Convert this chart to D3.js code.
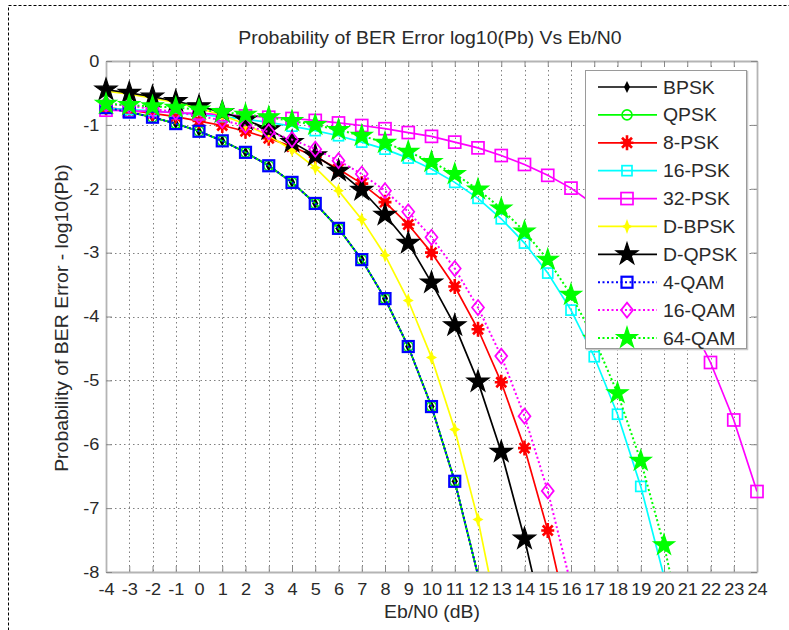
<!DOCTYPE html>
<html>
<head>
<meta charset="utf-8">
<script src="https://cdn.jsdelivr.net/npm/d3@7"></script>
<style>
  body { margin: 0; background: #fff; }
  svg { display: block; }
  text { font-family: "Liberation Sans", Arial, sans-serif; fill: #2a2a2a; }
</style>
</head>
<body>
<svg id="chart" width="789" height="630"></svg>
<script>
// Eb/N0 in dB, one point per integer
var ebno = [-4, -3, -2, -1, 0, 1, 2, 3, 4, 5, 6, 7, 8, 9, 10, 11, 12, 13, 14, 15, 16, 17, 18, 19, 20, 21, 22, 23, 24];
var xTicks = ebno;
var yTicks = [0, -1, -2, -3, -4, -5, -6, -7, -8];

// log10(Pb)
var bpsk = [-0.73, -0.80, -0.88, -0.98, -1.10, -1.25, -1.43, -1.64, -1.90, -2.23, -2.62, -3.11, -3.72, -4.47, -5.41, -6.58, -8.05];
var qpsk = [-0.73, -0.80, -0.88, -0.98, -1.10, -1.25, -1.43, -1.64, -1.90, -2.23, -2.62, -3.11, -3.72, -4.47, -5.41, -6.58, -8.05];
var psk8 = [-0.73, -0.77, -0.82, -0.87, -0.94, -1.01, -1.10, -1.21, -1.34, -1.50, -1.69, -1.92, -2.21, -2.56, -3.00, -3.53, -4.20, -5.03, -6.06, -7.35, -8.95];
var psk16 = [-0.74, -0.76, -0.78, -0.81, -0.84, -0.87, -0.91, -0.96, -1.02, -1.09, -1.17, -1.27, -1.38, -1.52, -1.69, -1.90, -2.15, -2.47, -2.85, -3.32, -3.90, -4.63, -5.53, -6.66, -8.07];
var psk32 = [-0.77, -0.78, -0.79, -0.81, -0.82, -0.84, -0.86, -0.88, -0.90, -0.93, -0.97, -1.01, -1.06, -1.12, -1.18, -1.27, -1.36, -1.48, -1.62, -1.79, -1.99, -2.25, -2.56, -2.94, -3.41, -4.00, -4.72, -5.62, -6.74];
var dbpsk = [-0.47, -0.52, -0.58, -0.65, -0.74, -0.85, -0.99, -1.17, -1.39, -1.67, -2.03, -2.48, -3.04, -3.75, -4.64, -5.77, -7.18, -8.97];
var dqpsk = [-0.45, -0.50, -0.56, -0.63, -0.71, -0.80, -0.92, -1.07, -1.27, -1.48, -1.72, -2.02, -2.41, -2.85, -3.47, -4.14, -5.02, -6.12, -7.48, -9.05];
var qam4 = [-0.73, -0.80, -0.88, -0.98, -1.10, -1.25, -1.43, -1.64, -1.90, -2.23, -2.62, -3.11, -3.72, -4.47, -5.41, -6.58, -8.05];
var qam16 = [-0.67, -0.70, -0.75, -0.80, -0.86, -0.93, -1.01, -1.11, -1.23, -1.38, -1.56, -1.77, -2.03, -2.36, -2.76, -3.25, -3.86, -4.62, -5.56, -6.73, -8.20];
var qam64 = [-0.67, -0.69, -0.71, -0.73, -0.76, -0.80, -0.84, -0.88, -0.94, -1.00, -1.08, -1.17, -1.28, -1.42, -1.58, -1.77, -2.01, -2.31, -2.67, -3.11, -3.66, -4.35, -5.20, -6.26, -7.58, -9.23];

var names = ["BPSK", "QPSK", "8-PSK", "16-PSK", "32-PSK", "D-BPSK", "D-QPSK", "4-QAM", "16-QAM", "64-QAM"];
var values = [bpsk, qpsk, psk8, psk16, psk32, dbpsk, dqpsk, qam4, qam16, qam64];

// look of each series
var colors = ["#000000", "#00ff00", "#ff0000", "#00ffff", "#ff00ff", "#ffff00", "#000000", "#0000ff", "#ff00ff", "#00ff00"];
var dashes = [null, null, null, null, null, null, null, "2,2.5", "2,2.5", "2,2.5"];
var markers = ["dia", "circle", "aster", "sq10", "sq12", "spark", "star", "sq11", "odia", "gstar"];

var plotL = 106, plotR = 757, plotT = 61, plotB = 572;
var sx = 1.08;

var svg = d3.select("#chart");

// dashed frame round the figure
svg.append("rect")
  .attr("x", 8.5).attr("y", 5.5).attr("width", 800).attr("height", 700)
  .attr("fill", "none").attr("stroke", "#000").attr("stroke-dasharray", "3,2");

var x = d3.scaleLinear().domain([-4, 24]).range([plotL, plotR]);
var y = d3.scaleLinear().domain([0, -8]).range([plotT, plotB]);

// grid
var grid = svg.append("g").attr("stroke", "#808080").attr("stroke-dasharray", "1.5,3");
grid.selectAll("line.v").data(xTicks.slice(1, -1)).enter().append("line")
  .attr("x1", function (d) { return Math.round(x(d)) + 0.5; })
  .attr("x2", function (d) { return Math.round(x(d)) + 0.5; })
  .attr("y1", plotT).attr("y2", plotB);
grid.selectAll("line.h").data(yTicks.slice(1, -1)).enter().append("line")
  .attr("y1", function (d) { return Math.round(y(d)) + 0.5; })
  .attr("y2", function (d) { return Math.round(y(d)) + 0.5; })
  .attr("x1", plotL).attr("x2", plotR);

// axes, ticks inside on all four sides
var plain = function (d) { return String(d); };
function styleAxis(g) {
  g.select(".domain").attr("stroke", "#b4b4b4").attr("stroke-width", 1.8);
  g.selectAll(".tick line").attr("stroke", "#888");
  g.selectAll(".tick text").attr("fill", "#2a2a2a").style("font-size", "16.5px")
    .style("font-family", "Liberation Sans, Arial, sans-serif")
    .attr("transform", "scale(1.1,1)");
}
svg.append("g").attr("transform", "translate(0," + plotB + ")")
  .call(d3.axisBottom(x).tickValues(xTicks).tickSize(-6).tickSizeOuter(0).tickPadding(11).tickFormat(plain))
  .call(styleAxis);
svg.append("g").attr("transform", "translate(0," + plotT + ")")
  .call(d3.axisTop(x).tickValues(xTicks).tickSize(-6).tickSizeOuter(0).tickFormat(""))
  .call(styleAxis);
svg.append("g").attr("transform", "translate(" + plotL + ",0)")
  .call(d3.axisLeft(y).tickValues(yTicks).tickSize(-6).tickSizeOuter(0).tickPadding(6).tickFormat(plain))
  .call(styleAxis);
svg.append("g").attr("transform", "translate(" + plotR + ",0)")
  .call(d3.axisRight(y).tickValues(yTicks).tickSize(-6).tickSizeOuter(0).tickFormat(""))
  .call(styleAxis);

// marker shapes
function drawMarker(g, kind, color) {
  if (kind === "dia") {
    g.append("path").attr("d", "M0,-6L3,0L0,6L-3,0Z").attr("fill", color);
  } else if (kind === "circle") {
    g.append("circle").attr("r", 5).attr("fill", "none").attr("stroke", color).attr("stroke-width", 1.6);
  } else if (kind === "aster") {
    g.append("path").attr("d", "M-6.5,0L6.5,0M0,-7.5L0,7.5M-5,-5L5,5M-5,5L5,-5")
      .attr("stroke", color).attr("stroke-width", 2.6);
    g.append("circle").attr("r", 4).attr("fill", color);
  } else if (kind === "sq10" || kind === "sq11" || kind === "sq12") {
    var s = +kind.slice(2);
    g.append("rect").attr("x", -s / 2).attr("y", -s / 2).attr("width", s).attr("height", s)
      .attr("fill", "none").attr("stroke", color).attr("stroke-width", kind === "sq11" ? 2.2 : 1.7);
  } else if (kind === "spark") {
    g.append("path").attr("d", "M0,-7.5L2,-2L5.5,0L2,2L0,7.5L-2,2L-5.5,0L-2,-2Z").attr("fill", color);
  } else if (kind === "odia") {
    g.append("path").attr("d", "M0,-7.5L6,0L0,7.5L-6,0Z").attr("fill", "none")
      .attr("stroke", color).attr("stroke-width", 1.7);
  } else if (kind === "star" || kind === "gstar") {
    g.append("path").attr("d", d3.symbol().type(d3.symbolStar).size(kind === "star" ? 150 : 135)())
      .attr("fill", color).attr("stroke", color).attr("stroke-width", 1.2);
  }
}

svg.append("clipPath").attr("id", "plotclip").append("rect")
  .attr("x", plotL).attr("y", plotT).attr("width", plotR - plotL).attr("height", plotB - plotT);

var line = d3.line()
  .x(function (d) { return x(d[0]); })
  .y(function (d) { return y(d[1]); });

// lines are clipped to the axes box, markers are not
var plot = svg.append("g");
names.forEach(function (name, i) {
  var pts = values[i].map(function (v, j) { return [ebno[j], v]; });
  plot.append("path").datum(pts)
    .attr("clip-path", "url(#plotclip)")
    .attr("d", line)
    .attr("fill", "none")
    .attr("stroke", colors[i])
    .attr("stroke-width", dashes[i] ? 2 : 1.7)
    .attr("stroke-dasharray", dashes[i]);
  plot.selectAll("g.m" + i).data(pts.filter(function (p) { return p[1] >= -8; }))
    .enter().append("g")
    .attr("transform", function (d) { return "translate(" + x(d[0]) + "," + y(d[1]) + ")"; })
    .each(function () { drawMarker(d3.select(this), markers[i], colors[i]); });
});

// legend
var lg = svg.append("g");
lg.append("rect").attr("x", 586.5).attr("y", 71.5).attr("width", 161).attr("height", 278)
  .attr("fill", "none").attr("stroke", "#c8c8c8").attr("stroke-width", 1.5);
lg.append("rect").attr("x", 585.5).attr("y", 70.5).attr("width", 161).attr("height", 278)
  .attr("fill", "#fff").attr("stroke", "#9a9a9a").attr("stroke-width", 1);
var rowY = d3.scaleLinear().domain([0, 9]).range([87, 338]);
names.forEach(function (name, i) {
  var ry = rowY(i);
  lg.append("line").attr("x1", 598).attr("x2", 657).attr("y1", ry).attr("y2", ry)
    .attr("stroke", colors[i]).attr("stroke-width", dashes[i] ? 2 : 1.7)
    .attr("stroke-dasharray", dashes[i]);
  drawMarker(lg.append("g").attr("transform", "translate(627," + ry + ")"), markers[i], colors[i]);
  lg.append("text").attr("transform", "translate(663," + (ry + 6.5) + ") scale(" + sx + ",1)")
    .style("font-size", "18px").text(name);
});

// titles
svg.append("text").attr("transform", "translate(430,44) scale(" + sx + ",1)")
  .attr("text-anchor", "middle").style("font-size", "18px")
  .text("Probability of BER Error log10(Pb) Vs Eb/N0");
svg.append("text").attr("transform", "translate(432,618) scale(" + sx + ",1)")
  .attr("text-anchor", "middle").style("font-size", "18px")
  .text("Eb/N0 (dB)");
svg.append("text").attr("transform", "translate(68,318) rotate(-90) scale(" + sx + ",1)")
  .attr("text-anchor", "middle").style("font-size", "18px")
  .text("Probability of BER Error - log10(Pb)");
</script>
</body>
</html>
